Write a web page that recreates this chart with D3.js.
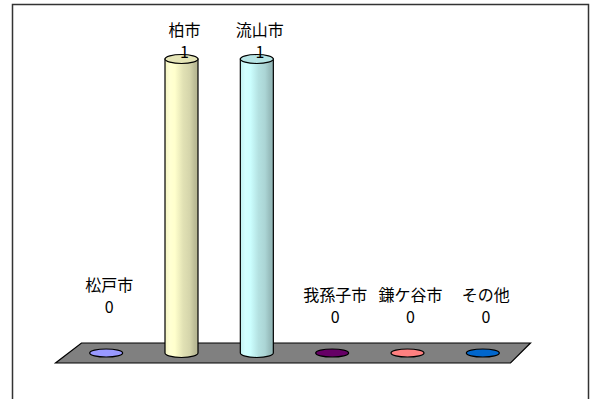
<!DOCTYPE html>
<html>
<head>
<meta charset="utf-8">
<title>市別</title>
<style>
  body { margin: 0; background: #fff; }
  text { font-family: "Noto Sans CJK JP", "Noto Sans", sans-serif; }
</style>
</head>
<body>
<div id="chart"></div>
<script src="https://cdn.jsdelivr.net/npm/d3@7"></script>
<script>
// data
var cities = ["松戸市", "柏市", "流山市", "我孫子市", "鎌ケ谷市", "その他"];
var counts = [0, 1, 1, 0, 0, 0];
var colors = ["#9999ff", "#ffffcc", "#ccffff", "#660066", "#ff8080", "#0066cc"];

function main() {
  var width = 597, height = 399;
  var svg = d3.select("#chart").append("svg")
    .attr("width", width)
    .attr("height", height);

  // outer frame (runs off the bottom)
  svg.append("rect")
    .attr("x", 12.5).attr("y", 4.5)
    .attr("width", 576).attr("height", 420)
    .attr("fill", "none")
    .attr("stroke", "#333")
    .attr("stroke-width", 1.5);

  var x = d3.scaleBand()
    .domain(cities)
    .range([68.5, 520.5]);

  var y = d3.scaleLinear()
    .domain([0, 1])
    .range([353, 59]);

  var rx = 16.5, ry = 4.5;
  var skew = 13;

  // floor
  var floorTop = y(0) - 10, floorBot = y(0) + 10;
  svg.append("path")
    .attr("d", "M" + (x.range()[0] + skew) + "," + floorTop +
      "L" + (x.range()[1] + skew - 3) + "," + floorTop +
      "L" + (x.range()[1] - skew + 3) + "," + floorBot +
      "L" + (x.range()[0] - skew) + "," + floorBot + "Z")
    .attr("fill", "#808080")
    .attr("stroke", "#000")
    .attr("stroke-width", 1.2);

  var defs = svg.append("defs");
  cities.forEach(function(c, i) {
    var base = d3.color(colors[i]);
    var g = defs.append("linearGradient")
      .attr("id", "grad" + i)
      .attr("x1", "0").attr("x2", "1").attr("y1", "0").attr("y2", "0");
    var stops = [
      [0, base.darker(0.15)],
      [0.15, base.brighter(0.1)],
      [0.3, base],
      [0.55, base.darker(0.35)],
      [0.75, base.darker(0.5)],
      [0.9, base.darker(0.85)],
      [1, base.darker(0.95)]
    ];
    stops.forEach(function(s) {
      g.append("stop").attr("offset", s[0]).attr("stop-color", s[1]);
    });
  });

  var bars = svg.selectAll("g.bar")
    .data(cities)
    .enter().append("g")
    .attr("class", "bar");

  bars.each(function(c, i) {
    var g = d3.select(this);
    var cx = x(c) + x.bandwidth() / 2;
    var v = counts[i];
    var top = y(v), bot = y(0);
    if (v > 0) {
      g.append("path")
        .attr("d", "M" + (cx - rx) + "," + top +
          "L" + (cx - rx) + "," + bot +
          "A" + rx + "," + ry + " 0 0,0 " + (cx + rx) + "," + bot +
          "L" + (cx + rx) + "," + top + "Z")
        .attr("fill", "url(#grad" + i + ")")
        .attr("stroke", "#000")
        .attr("stroke-width", 1.2);
      g.append("ellipse")
        .attr("cx", cx).attr("cy", top)
        .attr("rx", rx).attr("ry", ry)
        .attr("fill", d3.color(colors[i]).darker(0.3))
        .attr("stroke", "#000")
        .attr("stroke-width", 1.2);
    } else {
      g.append("ellipse")
        .attr("cx", cx).attr("cy", bot)
        .attr("rx", rx).attr("ry", 4)
        .attr("fill", colors[i])
        .attr("stroke", "#000")
        .attr("stroke-width", 1.2);
    }

    // labels
    var lx = cx + 3;
    var base = v > 0 ? top - 1 : bot - 30;
    if (c === "松戸市") base -= 10;
    g.append("text")
      .attr("x", lx).attr("y", base)
      .attr("text-anchor", "middle")
      .attr("font-size", 16)
      .text(v);
    g.append("text")
      .attr("x", lx).attr("y", base - 22)
      .attr("text-anchor", "middle")
      .attr("font-size", 16)
      .text(c);
  });
}

window.onload = main;
</script>
</body>
</html>
